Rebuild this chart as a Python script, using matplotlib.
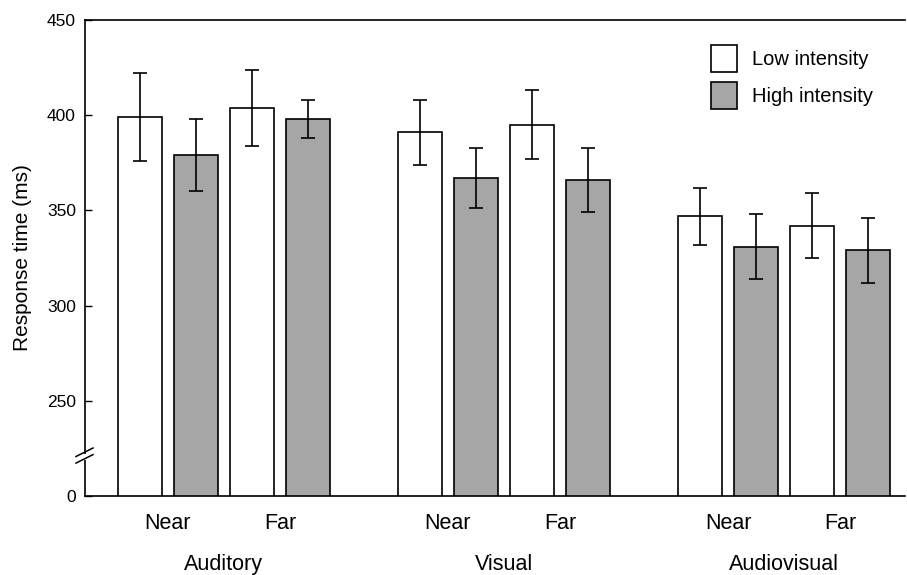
import matplotlib.pyplot as plt
import matplotlib.transforms as mtransforms
from matplotlib.lines import Line2D
from matplotlib.patches import Rectangle, Patch
import numpy as np

plt.rcParams['font.family'] = ['Liberation Sans', 'DejaVu Sans']

# data
groups = ["Auditory", "Visual", "Audiovisual"]
distances = ["Near", "Far"]
low_mean = [399, 404, 391, 395, 347, 342]
low_err = [23, 20, 17, 18, 15, 17]
high_mean = [379, 398, 367, 366, 331, 329]
high_err = [19, 10, 16, 17, 17, 17]
ytick_vals = [200, 250, 300, 350, 400, 450]
ytick_labels = ["0", "250", "300", "350", "400", "450"]

W, H = 907, 575
fig = plt.figure(figsize=(W / 100, H / 100), dpi=100)
ax = fig.add_axes([85 / W, 1 - 496 / H, 820 / W, 476 / H])

# positions: each group 5 units apart, near/far pair 2 apart, bars 1 apart
pos_low = []
pos_high = []
for g in range(len(groups)):
    for d in range(len(distances)):
        pos_low.append(g * 5 + d * 2)
        pos_high.append(g * 5 + d * 2 + 1)

bw = 0.79
ax.bar(pos_low, low_mean, width=bw, color='white', edgecolor='black', linewidth=1.2, zorder=2)
ax.bar(pos_high, high_mean, width=bw, color='#a6a6a6', edgecolor='black', linewidth=1.2, zorder=2)
ax.errorbar(pos_low, low_mean, yerr=low_err, fmt='none', ecolor='black', elinewidth=1.2, capsize=5, capthick=1.2, zorder=3)
ax.errorbar(pos_high, high_mean, yerr=high_err, fmt='none', ecolor='black', elinewidth=1.2, capsize=5, capthick=1.2, zorder=3)

ax.set_xlim(-0.98, 13.66)
ax.set_ylim(200, 450)
ax.set_yticks(ytick_vals)
ax.set_yticklabels(ytick_labels, fontsize=12.5)
ax.tick_params(axis='y', direction='in', length=5, width=1, pad=6.5)

# near / far labels as x ticks
xt = []
xl = []
for g in range(len(groups)):
    for d in range(len(distances)):
        xt.append(g * 5 + d * 2 + 0.5)
        xl.append(distances[d])
ax.set_xticks(xt)
ax.set_xticklabels(xl, fontsize=15.5)
ax.tick_params(axis='x', length=0, pad=12)

trans = mtransforms.blended_transform_factory(ax.transData, ax.transAxes)
for g, name in enumerate(groups):
    ax.text(g * 5 + 1.5, -0.143, name, transform=trans, ha='center', va='center', fontsize=15.5)

ax.spines['right'].set_visible(False)
for s in ['left', 'top', 'bottom']:
    ax.spines[s].set_linewidth(1.2)

ax.set_ylabel("Response time (ms)", fontsize=15, labelpad=11)

# axis break on the left spine
fig.patches.append(Rectangle((81 / W, 1 - 460 / H), 8 / W, 6 / H, transform=fig.transFigure,
                             facecolor='white', edgecolor='none', zorder=5))
for dy in [0, 6.6]:
    fig.lines.append(Line2D([76 / W, 93 / W], [1 - (456.5 + dy) / H, 1 - (448 + dy) / H],
                            transform=fig.transFigure, color='black', linewidth=1.1, zorder=6))

handles = [Patch(facecolor='white', edgecolor='black', linewidth=1.2),
           Patch(facecolor='#a6a6a6', edgecolor='black', linewidth=1.2)]
fig.legend(handles, ["Low intensity", "High intensity"], loc='upper left',
           bbox_to_anchor=(711 / W, 1 - 45 / H), bbox_transform=fig.transFigure,
           frameon=False, fontsize=14.5, borderpad=0, borderaxespad=0,
           handlelength=1.3, handleheight=1.65, handletextpad=0.75, labelspacing=0.52)

fig.savefig("out.png", dpi=100)
